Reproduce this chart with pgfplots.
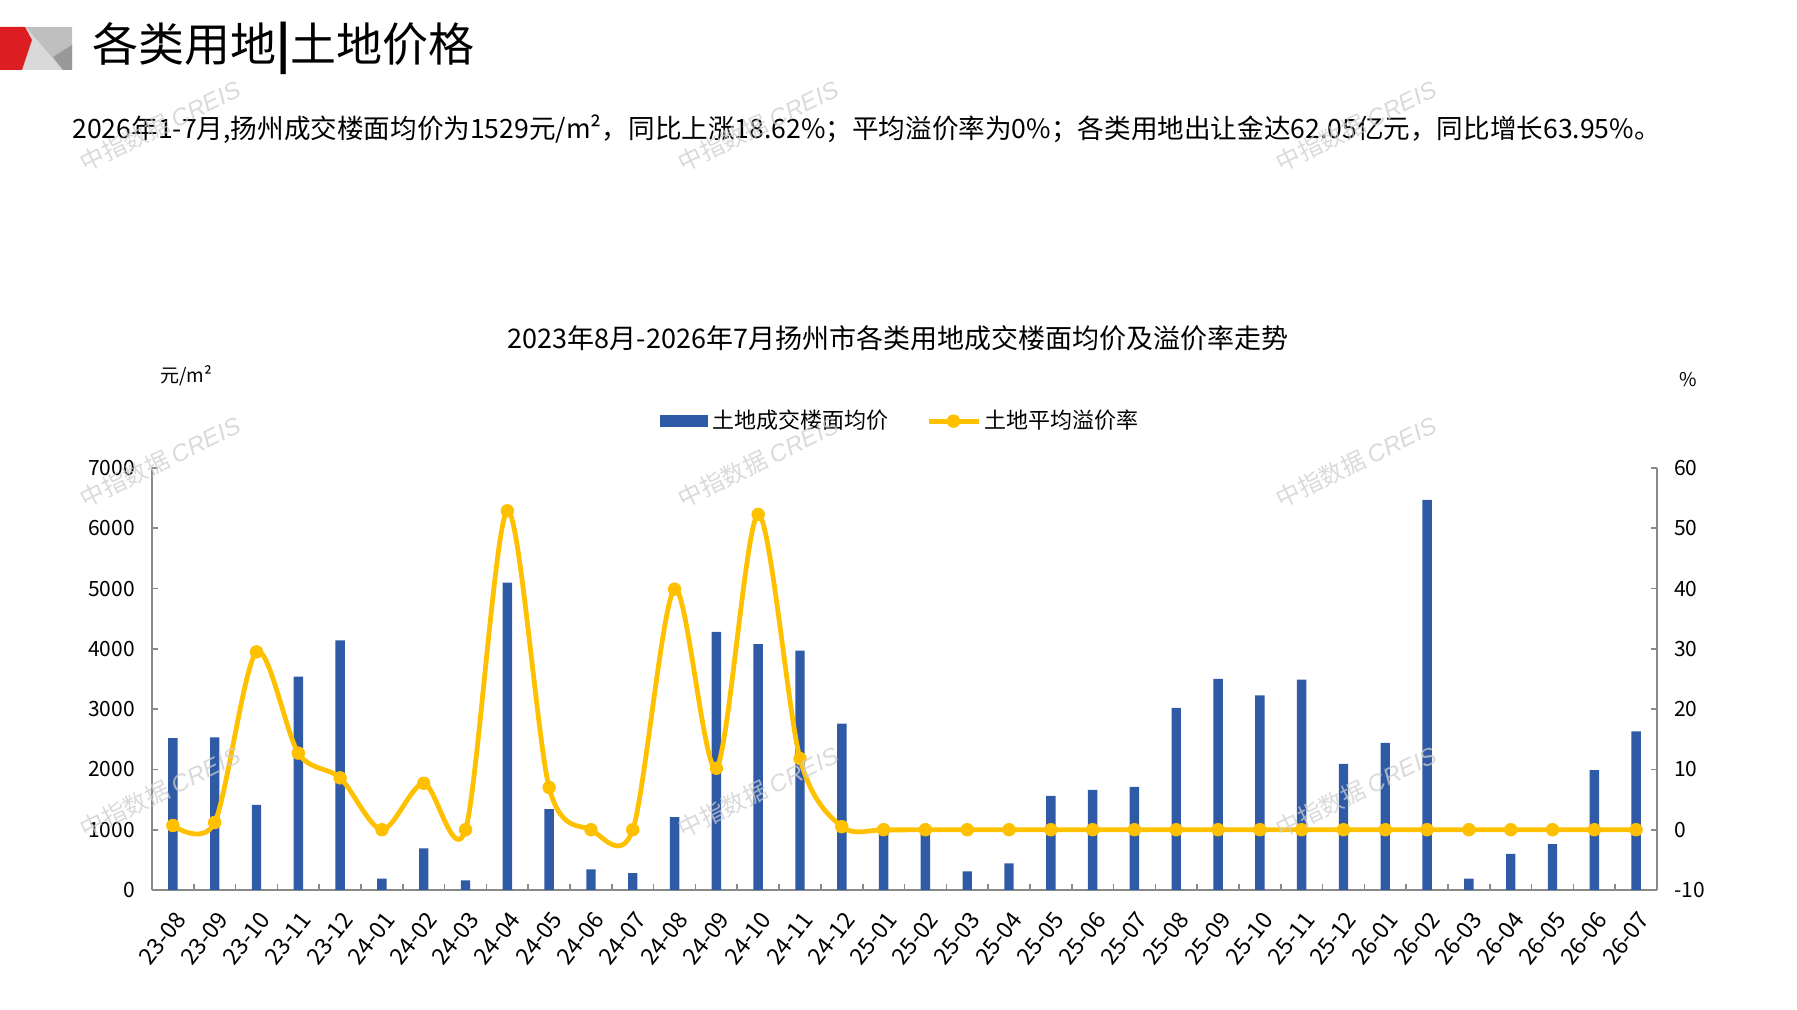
\documentclass[border=0pt]{standalone}
\usepackage{fontspec}
\setmainfont{Noto Sans CJK SC}
\newfontfamily\wmlat{Liberation Sans}
\usepackage{pgfplots}
\usepackage{pgfplotstable}
\pgfplotsset{compat=1.18}
\definecolor{barblue}{RGB}{47,90,166}
\definecolor{gold}{RGB}{255,192,0}
\definecolor{axgray}{RGB}{137,137,137}
\definecolor{wmgray}{RGB}{205,205,205}
\definecolor{hred}{RGB}{220,30,34}

\pgfplotstableread{
x price rate
0 2520 0.7
1 2530 1.2
2 1410 29.5
3 3540 12.7
4 4140 8.6
5 190 0
6 690 7.7
7 160 0
8 5100 52.9
9 1340 7.0
10 340 0
11 280 0
12 1210 39.9
13 4280 10.2
14 4080 52.3
15 3970 11.8
16 2760 0.5
17 950 0
18 960 0
19 310 0
20 440 0
21 1560 0
22 1660 0
23 1710 0
24 3020 0
25 3500 0
26 3230 0
27 3490 0
28 2090 0
29 2440 0
30 6470 0
31 190 0
32 600 0
33 760 0
34 1990 0
35 2630 0
}\datatable

\pgfplotsset{
  common/.style={
    at={(76pt,60pt)}, anchor=south west,
    scale only axis, width=752.5pt, height=211pt,
    xmin=-0.5, xmax=35.5,
    tick align=inside,
    axis line style={draw=axgray, line width=0.8pt},
    tick style={draw=axgray, line width=0.8pt},
    major tick length=3pt,
    /pgf/number format/assume math mode=true,
    /pgf/number format/set thousands separator={},
    ticklabel style={font=\fontsize{10.5}{12}\selectfont, text=black},
  },
  mylineleg/.style={legend image code/.code={\draw[mark repeat=2, mark phase=2, ##1] plot coordinates {(0pt,0pt) (12.5pt,0pt) (25pt,0pt)};}},
  mybarleg/.style={legend image code/.code={\fill[barblue] (0pt,-3pt) rectangle (24pt,3pt);}},
}

\begin{document}
\begin{tikzpicture}[x=1pt,y=1pt]
\useasboundingbox (0,0) rectangle (898.5,505);

% header decoration
\fill[black!15] (11,491.5) rectangle (36,470);
\fill[black!25] (13,491.5) -- (36,491.5) -- (36,470) -- (31.5,470) -- cycle;
\fill[black!40] (26.5,476.5) -- (36,482.5) -- (36,470) -- (31.5,470) -- cycle;
\fill[hred] (0,491.5) -- (12.5,491.5) -- (16,485) -- (11,470) -- (0,470) -- cycle;

\node[anchor=west, inner sep=0pt, font=\fontsize{23}{26}\selectfont] at (46,481) {各类用地{\bfseries|}土地价格};

\node[anchor=west, inner sep=0pt, font=\fontsize{13.3}{15}\selectfont] at (36,440.5)
  {2026年1-7月,扬州成交楼面均价为1529元/m²，同比上涨18.62\%；平均溢价率为0\%；各类用地出让金达62.05亿元，同比增长63.95\%。};

\node[font=\fontsize{13.5}{15}\selectfont] at (449,336)
  {2023年8月-2026年7月扬州市各类用地成交楼面均价及溢价率走势};

\node[font=\fontsize{9.5}{11}\selectfont] at (93,317) {元/m²};
\node[font=\fontsize{9.5}{11}\selectfont] at (844,315) {\%};

\begin{axis}[common,
  ymin=0, ymax=7000,
  axis x line*=bottom, axis y line*=left,
  ytick={0,1000,...,7000},
  scaled y ticks=false,
  yticklabel style={xshift=-5pt},
  xtick={0,...,35},
  xticklabels={23-08,23-09,23-10,23-11,23-12,24-01,24-02,24-03,24-04,24-05,24-06,24-07,24-08,24-09,24-10,24-11,24-12,25-01,25-02,25-03,25-04,25-05,25-06,25-07,25-08,25-09,25-10,25-11,25-12,26-01,26-02,26-03,26-04,26-05,26-06,26-07},
  every major x tick/.append style={draw=none},
  minor xtick={0.5,1.5,...,34.5},
  minor tick length=2.8pt,
  xticklabel shift=5pt,
  xticklabel style={rotate=52, anchor=north east, font=\fontsize{11.5}{13}\selectfont},
  legend style={at={(0.498,1.111)}, anchor=center, draw=none, fill=none,
    legend columns=2, font=\fontsize{11}{13}\selectfont,
    /tikz/every even column/.append style={column sep=17pt}},
]
\addplot[ybar, bar width=4.7pt, fill=barblue, draw=none, mybarleg]
  table[x=x, y=price]{\datatable};
\addlegendentry{土地成交楼面均价}
\addlegendimage{gold, line width=2.4pt, mark=*, mark size=3.1pt,
  mark options={fill=gold, draw=gold, line width=0.5pt}, mylineleg}
\addlegendentry{土地平均溢价率}
\end{axis}

\begin{axis}[common,
  ymin=-10, ymax=60,
  axis x line=none, axis y line*=right,
  ytick={-10,0,...,60},
  yticklabel style={xshift=5pt},
]
\addplot[gold, line width=2.4pt, smooth, mark=*, mark size=3.1pt,
  mark options={fill=gold, draw=gold, line width=0.5pt}]
  table[x=x, y=rate]{\datatable};
\end{axis}

% watermarks
\foreach \wx in {80,379,678}{
  \foreach \wy in {442,274,109}{
    \node[rotate=26, text=wmgray, opacity=0.75, font=\fontsize{12}{14}\selectfont] at (\wx,\wy) {中指数据 {\wmlat\itshape CREIS}};
  }
}
\end{tikzpicture}
\end{document}
